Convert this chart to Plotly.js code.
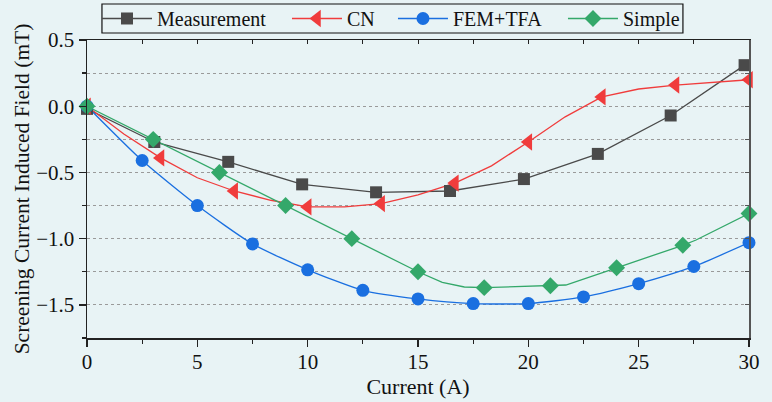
<!DOCTYPE html>
<html>
<head>
<meta charset="utf-8">
<script src="https://cdn.plot.ly/plotly-3.0.1.min.js"></script>
<style>html,body{margin:0;padding:0;background:#e8f3f5;}#chart{width:772px;height:402px;}</style>
</head>
<body>
<div id="chart"></div>
<script>
// Measurement
const measX = [0, 3.05, 6.4, 9.75, 13.1, 16.45, 19.8, 23.15, 26.45, 29.8];
const measY = [-0.02, -0.27, -0.42, -0.59, -0.65, -0.64, -0.55, -0.36, -0.07, 0.31];
// CN markers and line vertices
const cnX = [0, 3.33, 6.67, 10, 13.33, 16.67, 20, 23.33, 26.67, 30];
const cnY = [0, -0.39, -0.64, -0.76, -0.735, -0.58, -0.27, 0.07, 0.16, 0.20];
const cnLineX = [0, 1.67, 3.33, 5, 6.67, 8.33, 10, 11.67, 13.33, 15, 16.67, 18.33, 20, 21.67, 23.33, 25, 26.67, 28.33, 30];
const cnLineY = [0, -0.21, -0.39, -0.54, -0.64, -0.71, -0.76, -0.76, -0.735, -0.67, -0.58, -0.45, -0.27, -0.08, 0.07, 0.13, 0.16, 0.18, 0.20];
// FEM+TFA
const femX = [0, 2.5, 5, 7.5, 10, 12.5, 15, 17.5, 20, 22.5, 25, 27.5, 30];
const femY = [0, -0.41, -0.75, -1.04, -1.235, -1.39, -1.455, -1.49, -1.49, -1.44, -1.34, -1.21, -1.03];
// Simple markers and line vertices
const simX = [0, 3, 6, 9, 12, 15, 18, 21, 24, 27, 30];
const simY = [0, -0.25, -0.5, -0.75, -1.0, -1.25, -1.37, -1.355, -1.22, -1.05, -0.81];
const simLineX = [0, 3, 6, 9, 12, 15, 16.1, 17.1, 18, 21, 21.7, 24, 27, 27.6, 30];
const simLineY = [0, -0.25, -0.5, -0.75, -1.0, -1.25, -1.33, -1.365, -1.37, -1.355, -1.35, -1.22, -1.05, -1.01, -0.81];

const names = ['Measurement', 'CN', 'FEM+TFA', 'Simple'];
const colors = ['#4a4a4a', '#f03c3c', '#1a6fe0', '#34a86a'];
const symbols = ['square', 'triangle-left', 'circle', 'diamond'];
const sizes = [12, 15, 13, 13];
const legendX = [0.0151, 0.3021, 0.4622, 0.7190];

const traces = [];
traces.push({x: [null], y: [null], xaxis: 'x2', yaxis: 'y2', mode: 'markers', showlegend: false, hoverinfo: 'skip'});
traces.push({x: measX, y: measY, mode: 'lines', line: {color: colors[0], width: 1.3}, showlegend: false, hoverinfo: 'skip'});
traces.push({x: cnLineX, y: cnLineY, mode: 'lines', line: {color: colors[1], width: 1.3}, showlegend: false, hoverinfo: 'skip'});
traces.push({x: femX, y: femY, mode: 'lines', line: {color: colors[2], width: 1.3, shape: 'spline', smoothing: 0.6}, showlegend: false, hoverinfo: 'skip'});
traces.push({x: simLineX, y: simLineY, mode: 'lines', line: {color: colors[3], width: 1.3}, showlegend: false, hoverinfo: 'skip'});
const mk = [[measX, measY], [cnX, cnY], [femX, femY], [simX, simY]];
for (let i = 0; i < 4; i++) {
  traces.push({x: mk[i][0], y: mk[i][1], mode: 'markers', cliponaxis: false,
    marker: {color: colors[i], symbol: symbols[i], size: sizes[i], line: {width: 0}}, showlegend: false});
}
for (let i = 0; i < 4; i++) {
  traces.push({x: [null], y: [null], mode: 'lines+markers', name: names[i],
    legend: i === 0 ? 'legend' : 'legend' + (i + 1),
    line: {color: colors[i], width: 1.3},
    marker: {color: colors[i], symbol: symbols[i], size: sizes[i], line: {width: 0}}});
}

const bg = '#e8f3f5';
const font = 'Liberation Serif, Times New Roman, serif';
const layout = {
  width: 772, height: 402,
  paper_bgcolor: bg, plot_bgcolor: bg,
  margin: {l: 87, r: 23, t: 40, b: 64, autoexpand: false},
  font: {family: font, size: 20, color: '#111'},
  showlegend: true,
  xaxis: {range: [0, 30], dtick: 5, tick0: 0, showgrid: false, zeroline: false, automargin: true,
    showline: true, linecolor: '#222', linewidth: 1.5, ticks: 'outside', ticklen: 7, tickwidth: 1.3, tickcolor: '#222',
    ticklabelstandoff: -3,
    minor: {dtick: 2.5, ticks: 'outside', ticklen: 4, tickcolor: '#222', showgrid: false},
    tickfont: {family: font, size: 21, color: '#111'},
    title: {text: 'Current (A)', font: {family: font, size: 22, color: '#111'}, standoff: 4}},
  yaxis: {range: [-1.75, 0.5], dtick: 0.5, tick0: 0, tickformat: '.1f', zeroline: false, automargin: true,
    showgrid: true, gridcolor: '#9a9a9a', griddash: 'dot', gridwidth: 1,
    showline: true, linecolor: '#222', linewidth: 1.5, ticks: 'outside', ticklen: 7, tickwidth: 1.3, tickcolor: '#222',
    minor: {dtick: 0.25, ticks: 'outside', ticklen: 4, tickcolor: '#222', showgrid: true, gridcolor: '#9a9a9a', griddash: 'dot', gridwidth: 1},
    tickfont: {family: font, size: 21, color: '#111'},
    title: {text: 'Screening Current Induced Field (mT)', font: {family: font, size: 21.5, color: '#111'}, standoff: 0}},
  xaxis2: {overlaying: 'x', side: 'top', range: [0, 30], dtick: 2.5, showgrid: false, zeroline: false,
    showline: true, linecolor: '#222', linewidth: 1.5, ticks: 'inside', ticklen: 4, tickcolor: '#222', showticklabels: false},
  yaxis2: {overlaying: 'y', side: 'right', range: [-1.75, 0.5], dtick: 0.25, showgrid: false, zeroline: false,
    showline: true, linecolor: '#555', linewidth: 1.5, ticks: 'inside', ticklen: 4, tickcolor: '#555', showticklabels: false},
  shapes: [{type: 'rect', xref: 'paper', yref: 'paper', x0: 0.0226, x1: 0.9002, y0: 1.0235, y1: 1.1208,
    line: {color: '#111', width: 1.2}, fillcolor: bg, layer: 'below'}]
};
for (let i = 0; i < 4; i++) {
  const key = i === 0 ? 'legend' : 'legend' + (i + 1);
  layout[key] = {orientation: 'h', x: legendX[i], xanchor: 'left', y: 1.0722, yanchor: 'middle',
    bgcolor: 'rgba(0,0,0,0)', borderwidth: 0, itemwidth: 50,
    font: {family: font, size: 20, color: '#111'}};
}

Plotly.newPlot('chart', traces, layout, {staticPlot: true});
</script>
</body>
</html>
